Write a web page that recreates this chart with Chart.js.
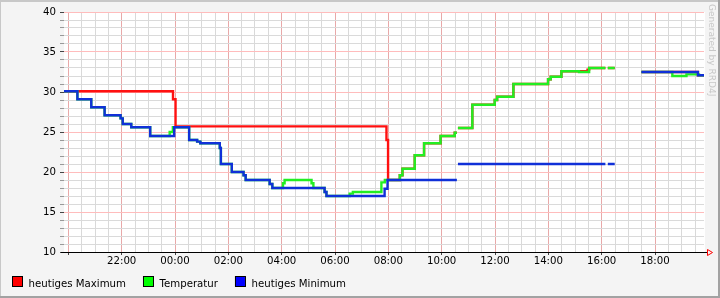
<!DOCTYPE html>
<html>
<head>
<meta charset="utf-8">
<script src="https://cdn.jsdelivr.net/npm/chart.js@4.4.1/dist/chart.umd.min.js"></script>
<style>
  html, body { margin: 0; padding: 0; background: #f4f4f4; }
  #wrap { width: 720px; height: 298px; }
</style>
</head>
<body>
<div id="wrap"><canvas id="tempChart" width="720" height="298"></canvas></div>
<script>
// --- DATA (time = hours relative to midnight, negative = previous evening) ---
const axisStart = -4.1625;   // 19:50 previous day
const axisEnd = 19.8375;     // 19:50

const seriesLabels = ['heutiges Maximum', 'Temperatur', 'heutiges Minimum'];

const maxTimes = [-4.1625, -0.075, 0.02, 7.93, 7.99, 8.43, 8.53, 8.99, 9.34, 9.96, 10.49, 10.57, 10.59, 10.61,
  11.15, 11.99, 12.08, 12.69, 13.99, 14.09, 14.49, 15.47, 15.53, 16.14, 16.18, 16.23, 16.49, 17.0, 17.49, 19.61, 19.8375];
const maxValues = [30.1, 29.1, 25.7, 24.0, 19.0, 19.6, 20.4, 22.1, 23.6, 24.5, 24.9, 24.9, null, 25.5,
  28.4, 29.0, 29.4, 31.0, 31.6, 31.9, 32.6, 32.8, 33.0, 33.0, null, 33.0, 33.0, null, 32.5, 32.1, 32.1];

const tempTimes = [-4.1625, -3.66, -3.14, -2.64, -2.04, -1.96, -1.64, -0.93, -0.2, -0.08, 0.53, 0.83, 0.95,
  1.68, 1.72, 2.13, 2.57, 2.65, 3.55, 3.65, 4.05, 4.11, 5.12, 5.19, 5.61, 5.68, 6.55, 6.67, 7.74, 7.87,
  8.43, 8.53, 8.99, 9.34, 9.96, 10.49, 10.57, 10.59, 10.61, 11.15, 11.99, 12.08, 12.69, 13.99, 14.09,
  14.49, 15.15, 15.53, 16.14, 16.18, 16.23, 16.49, 17.0, 17.49, 18.65, 19.18, 19.65, 19.8375];
const tempValues = [30.1, 29.1, 28.1, 27.1, 26.7, 26.0, 25.6, 24.5, 25.0, 25.6, 24.0, 23.8, 23.6,
  23.0, 21.0, 20.0, 19.6, 19.0, 18.5, 18.0, 18.6, 19.0, 18.6, 18.0, 17.5, 17.0, 17.3, 17.5, 18.7, 19.0,
  19.6, 20.4, 22.1, 23.6, 24.5, 24.9, 24.9, null, 25.5, 28.4, 29.0, 29.4, 31.0, 31.6, 31.9,
  32.6, 32.5, 33.0, 33.0, null, 33.0, 33.0, null, 32.5, 32.0, 32.2, 32.1, 32.1];

const minTimes = [-4.1625, -3.66, -3.14, -2.64, -2.04, -1.96, -1.64, -0.93, -0.03, 0.53, 0.83, 0.95, 1.68,
  1.72, 2.13, 2.57, 2.65, 3.55, 3.65, 5.61, 5.68, 7.86, 7.97, 10.57, 10.59, 10.61, 16.14, 16.18, 16.23,
  16.49, 17.0, 17.49, 19.61, 19.8375];
const minValues = [30.1, 29.1, 28.1, 27.1, 26.7, 26.0, 25.6, 24.5, 25.6, 24.0, 23.8, 23.6, 23.0,
  21.0, 20.0, 19.6, 19.0, 18.5, 18.0, 17.5, 17.0, 17.9, 19.0, 19.0, null, 21.0, 21.0, null, 21.0,
  21.0, null, 32.5, 32.1, 32.1];

const yMin = 10, yMax = 40;

// --- STYLE ---
const lineColors = ['#ff1010', '#22ee22', '#1030d8'];
const legendColors = ['#ff0000', '#00ff00', '#0000ff'];
const fontFamily = '"DejaVu Sans", Verdana, sans-serif';

Chart.defaults.font.family = fontFamily;
Chart.defaults.font.size = 10.2;
Chart.defaults.color = '#000';

const toPoints = (times, values) => times.map((t, i) => ({ x: t, y: values[i] }));
const isMajorHour = (v) => Number.isInteger(v) && v % 2 === 0;

// grid positions: every half hour on x, every degree on y
const xGridHours = [];
for (let h = -4; h <= 19.5; h += 0.5) xGridHours.push(h);
const yGridValues = [];
for (let v = yMin; v <= yMax; v++) yGridValues.push(v);

function lineDataset(i, times, values, order) {
    return {
        label: seriesLabels[i],
        data: toPoints(times, values),
        borderColor: lineColors[i],
        backgroundColor: lineColors[i],
        borderWidth: 2.4,
        stepped: true,
        pointRadius: 0,
        fill: false,
        spanGaps: false,
        borderCapStyle: 'butt',
        borderJoinStyle: 'miter',
        order: order
    };
}

// background, frame, arrow, watermark and legend
const rrdFrame = {
    id: 'rrdFrame',
    beforeDraw(chart) {
        const { ctx, chartArea: a } = chart;
        ctx.save();
        ctx.fillStyle = '#f4f4f4';
        ctx.fillRect(0, 0, chart.width, chart.height);
        ctx.fillStyle = '#ffffff';
        ctx.fillRect(a.left, a.top, a.right - a.left + 1, a.bottom - a.top);
        ctx.restore();
    },
    afterDraw(chart) {
        const { ctx, chartArea: a } = chart;
        ctx.save();

        // x axis extension + arrow
        ctx.strokeStyle = '#000';
        ctx.lineWidth = 1;
        ctx.beginPath();
        ctx.moveTo(61, a.bottom + 0.5);
        ctx.lineTo(707, a.bottom + 0.5);
        ctx.stroke();
        ctx.strokeStyle = '#ff0000';
        ctx.beginPath();
        ctx.moveTo(707.5, a.bottom - 2.5);
        ctx.lineTo(712.5, a.bottom + 0.5);
        ctx.lineTo(707.5, a.bottom + 3.5);
        ctx.closePath();
        ctx.stroke();

        // watermark
        ctx.translate(709, 4);
        ctx.rotate(Math.PI / 2);
        ctx.font = '9px ' + fontFamily;
        ctx.fillStyle = '#c8c8c8';
        ctx.textBaseline = 'alphabetic';
        ctx.fillText('Generated by RRD4J', 0, 0);
        ctx.setTransform(1, 0, 0, 1, 0, 0);

        // legend
        ctx.font = '10.2px ' + fontFamily;
        ctx.textBaseline = 'alphabetic';
        let lx = 12;
        chart.data.datasets.forEach((ds, i) => {
            ctx.fillStyle = legendColors[i];
            ctx.fillRect(lx, 276, 10, 10);
            ctx.strokeStyle = '#000';
            ctx.strokeRect(lx + 0.5, 276.5, 10, 10);
            ctx.fillStyle = '#000';
            ctx.fillText(ds.label, lx + 16.5, 286.5);
            lx += 16.5 + ctx.measureText(ds.label).width + 17;
        });

        // outer 3d border
        ctx.fillStyle = '#c8c8c8';
        ctx.fillRect(0, 0, chart.width, 2);
        ctx.fillRect(0, 0, 1, chart.height);
        ctx.fillStyle = '#a2a2a2';
        ctx.fillRect(0, chart.height - 2, chart.width, 2);
        ctx.fillRect(chart.width - 2, 0, 2, chart.height);
        ctx.restore();
    }
};

const ctxTemp = document.getElementById('tempChart').getContext('2d');
window.tempChart = new Chart(ctxTemp, {
    type: 'line',
    data: {
        datasets: [
            lineDataset(0, maxTimes, maxValues, 2),
            lineDataset(1, tempTimes, tempValues, 1),
            lineDataset(2, minTimes, minValues, 0)
        ]
    },
    options: {
        responsive: false,
        animation: false,
        events: [],
        layout: { padding: { top: 12, right: 16, bottom: 0, left: 0 } },
        plugins: {
            legend: { display: false },
            tooltip: { enabled: false }
        },
        scales: {
            x: {
                type: 'linear',
                min: axisStart,
                max: axisEnd,
                afterFit: (scale) => { scale.height = 46; },
                afterBuildTicks: (scale) => { scale.ticks = xGridHours.map(v => ({ value: v })); },
                border: { display: true, color: '#000', width: 1 },
                grid: {
                    color: (c) => (c.tick && isMajorHour(c.tick.value)) ? '#e8a9a9' : '#d9d9d9',
                    tickColor: (c) => (c.tick && isMajorHour(c.tick.value)) ? '#444' : 'rgba(0,0,0,0)',
                    tickLength: 3,
                    lineWidth: 1
                },
                ticks: {
                    autoSkip: false,
                    maxRotation: 0,
                    minRotation: 0,
                    padding: 0,
                    color: '#000',
                    callback: (v) => {
                        if (!isMajorHour(v) || v === -4) return '';
                        const h = ((v % 24) + 24) % 24;
                        return String(h).padStart(2, '0') + ':00';
                    }
                }
            },
            y: {
                min: yMin,
                max: yMax,
                afterFit: (scale) => { scale.width = 64; },
                afterBuildTicks: (scale) => { scale.ticks = yGridValues.map(v => ({ value: v })); },
                border: { display: false },
                grid: {
                    color: (c) => (c.tick && c.tick.value % 5 === 0) ? '#ffbcbc' : '#dadada',
                    tickColor: (c) => (c.tick && c.tick.value % 5 === 0) ? '#444' : '#999',
                    tickLength: 4,
                    lineWidth: 1
                },
                ticks: {
                    autoSkip: false,
                    padding: 4,
                    color: '#000',
                    callback: (v) => v % 5 === 0 ? String(v) : ''
                }
            }
        }
    },
    plugins: [rrdFrame]
});
</script>
</body>
</html>
